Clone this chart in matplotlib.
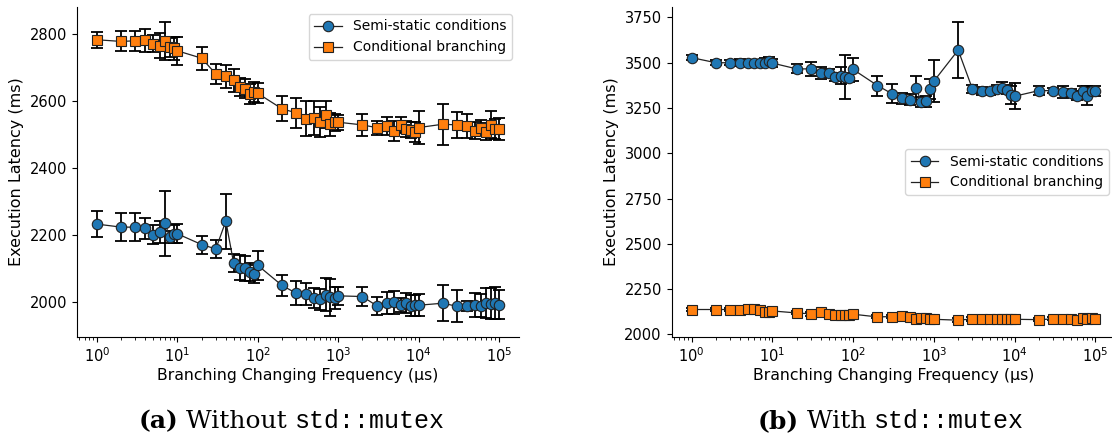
import matplotlib
matplotlib.use("Agg")
import matplotlib.pyplot as plt

# ---------------- data ----------------
freq = [1, 2, 3, 4, 5, 6, 7, 8, 9, 10,
        20, 30, 40, 50, 60, 70, 80, 90, 100,
        200, 300, 400, 500, 600, 700, 800, 900, 1000,
        2000, 3000, 4000, 5000, 6000, 7000, 8000, 9000, 10000,
        20000, 30000, 40000, 50000, 60000, 70000, 80000, 90000, 100000]

# (a) Without std::mutex
a_semi = [2233, 2224, 2224, 2220, 2201, 2209, 2235, 2195, 2203, 2204,
          2172, 2159, 2242, 2117, 2103, 2101, 2091, 2083, 2110,
          2050, 2027, 2025, 2013, 2009, 2023, 2015, 2013, 2019,
          2017, 1990, 1998, 2000, 1992, 1998, 1990, 1991, 1991,
          1997, 1988, 1989, 1993, 1990, 1997, 1995, 1998, 1993]
a_semi_err = [38, 42, 42, 31, 28, 33, 98, 18, 27, 28,
              27, 27, 82, 27, 38, 37, 27, 27, 44,
              31, 35, 33, 29, 31, 50, 55, 32, 27,
              27, 27, 32, 34, 22, 31, 32, 31, 33,
              53, 47, 15, 36, 35, 45, 46, 47, 43]
a_cond = [2783, 2778, 2780, 2781, 2771, 2765, 2779, 2760, 2757, 2750,
          2728, 2681, 2674, 2662, 2643, 2637, 2622, 2627, 2623,
          2577, 2565, 2548, 2549, 2537, 2560, 2531, 2537, 2537,
          2529, 2521, 2526, 2511, 2529, 2517, 2514, 2509, 2521,
          2531, 2529, 2526, 2512, 2521, 2509, 2529, 2517, 2517]
a_cond_err = [24, 30, 30, 35, 25, 37, 57, 27, 33, 41,
              34, 29, 35, 35, 27, 29, 30, 30, 30,
              37, 44, 53, 50, 44, 40, 35, 25, 23,
              33, 21, 26, 29, 25, 23, 25, 30, 50,
              61, 38, 35, 25, 23, 25, 40, 29, 32]

# (b) With std::mutex
b_semi = [3528, 3500, 3500, 3500, 3500, 3500, 3500, 3500, 3507, 3498,
          3466, 3466, 3444, 3441, 3422, 3428, 3422, 3417, 3463,
          3374, 3330, 3303, 3296, 3361, 3283, 3287, 3356, 3398,
          3570, 3356, 3346, 3342, 3357, 3361, 3352, 3324, 3315,
          3346, 3346, 3337, 3333, 3318, 3346, 3318, 3342, 3346]
b_semi_err = [12, 15, 15, 20, 15, 15, 15, 25, 22, 22,
              25, 40, 35, 22, 22, 48, 120, 26, 65,
              55, 50, 32, 30, 65, 27, 30, 56, 116,
              155, 22, 22, 18, 18, 30, 27, 50, 72,
              26, 15, 32, 20, 24, 24, 54, 26, 28]
b_cond = [2137, 2137, 2137, 2133, 2142, 2139, 2137, 2122, 2122, 2129,
          2118, 2113, 2122, 2113, 2107, 2105, 2105, 2107, 2111,
          2096, 2098, 2102, 2096, 2083, 2092, 2089, 2083, 2083,
          2078, 2085, 2083, 2083, 2085, 2083, 2087, 2083, 2083,
          2081, 2085, 2085, 2083, 2081, 2089, 2083, 2089, 2087]
b_cond_err = [8, 8, 8, 8, 8, 8, 8, 10, 10, 10,
              8, 12, 10, 8, 8, 8, 8, 8, 10,
              8, 8, 10, 8, 10, 8, 8, 8, 8,
              10, 10, 8, 8, 8, 8, 10, 8, 8,
              8, 8, 8, 8, 8, 10, 10, 8, 8]

series_labels = ["Semi-static conditions", "Conditional branching"]
xlabel = "Branching Changing Frequency (\u00b5s)"
ylabel = "Execution Latency (ms)"
captions = [("(a)", " Without ", "std::mutex"), ("(b)", " With ", "std::mutex")]

BLUE = "#1f77b4"
ORANGE = "#ff7f0e"

plt.rcParams["font.family"] = ["DejaVu Sans"]
plt.rcParams["font.size"] = 10

fig = plt.figure(figsize=(11.12, 4.41), dpi=100)
W, H = 1112, 441
ax_a = fig.add_axes([77 / W, (H - 337) / H, 442 / W, 330 / H])
ax_b = fig.add_axes([671.5 / W, (H - 337) / H, 444 / W, 330 / H])


def draw(ax, semi, semi_err, cond, cond_err, legend_loc):
    for vals, errs, col, mk, lab in [(semi, semi_err, BLUE, "o", series_labels[0]),
                                     (cond, cond_err, ORANGE, "s", series_labels[1])]:
        ax.errorbar(freq, vals, yerr=errs, fmt="none", ecolor="black",
                    elinewidth=1.3, capsize=4.5, capthick=1.3, zorder=2)
        ax.plot(freq, vals, marker=mk, color="#222222", lw=0.9,
                markerfacecolor=col, markeredgecolor="#222222",
                markeredgewidth=0.8, markersize=7.5, label=lab, zorder=3)
    ax.set_xscale("log")
    ax.set_xlabel(xlabel, fontsize=11.3, labelpad=2)
    ax.set_ylabel(ylabel, fontsize=11.5)
    ax.spines["top"].set_visible(False)
    ax.spines["right"].set_visible(False)
    ax.tick_params(labelsize=10.5)
    ax.legend(loc=legend_loc, fontsize=10)


draw(ax_a, a_semi, a_semi_err, a_cond, a_cond_err, "upper right")
draw(ax_b, b_semi, b_semi_err, b_cond, b_cond_err, "center right")

# captions
fig.canvas.draw()
renderer = fig.canvas.get_renderer()
for (bold, plain, code), cx in zip(captions, [292, 891]):
    parts = [(bold, dict(family="DejaVu Serif", weight="bold")),
             (plain, dict(family="DejaVu Serif")),
             (code, dict(family="Liberation Mono"))]
    texts = []
    for s, kw in parts:
        t = fig.text(0, 1 - 428 / H, s, fontsize=18, va="baseline", **kw)
        texts.append(t)
    widths = [t.get_window_extent(renderer).width for t in texts]
    total = sum(widths)
    x = cx - total / 2
    for t, w in zip(texts, widths):
        t.set_x(x / W)
        x += w

fig.savefig("out.png", dpi=100)
